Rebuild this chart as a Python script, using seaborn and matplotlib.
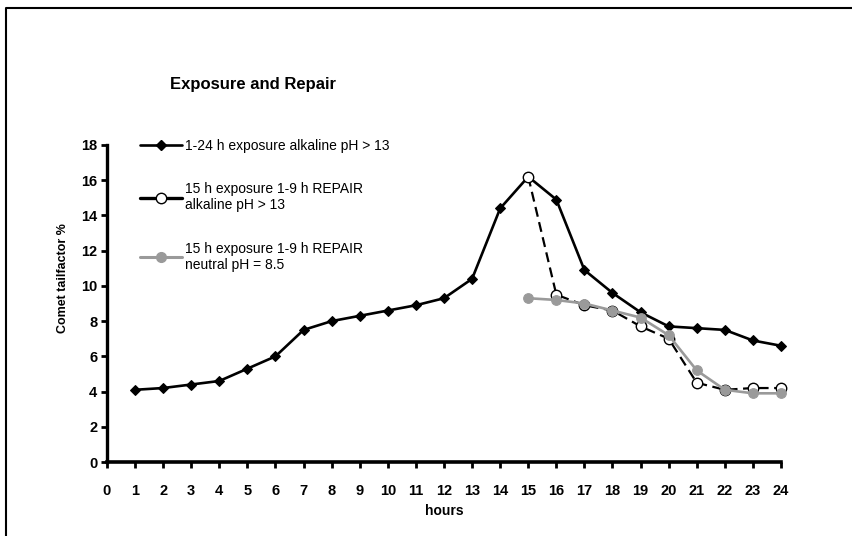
import matplotlib.pyplot as plt
import numpy as np
import pandas as pd
import seaborn as sns
from matplotlib.lines import Line2D

# data
hours_all = list(range(1, 25))
exposure_alk = [4.1, 4.2, 4.4, 4.6, 5.3, 6.0, 7.5, 8.0, 8.3, 8.6, 8.9, 9.3,
                10.4, 14.4, 16.2, 14.9, 10.9, 9.6, 8.5, 7.7, 7.6, 7.5, 6.9, 6.6]
hours_repair = list(range(15, 25))
repair_alk = [16.2, 9.5, 8.9, 8.6, 7.7, 7.0, 4.5, 4.1, 4.2, 4.2]
repair_neutral = [9.3, 9.2, 9.0, 8.6, 8.2, 7.2, 5.2, 4.1, 3.9, 3.9]

labels = ["1-24 h exposure alkaline pH > 13",
          "15 h exposure 1-9 h REPAIR\nalkaline pH > 13",
          "15 h exposure 1-9 h REPAIR\nneutral pH = 8.5"]
x_ticks = list(range(0, 25))
y_ticks = list(range(0, 20, 2))

GRAY = "#9a9a9a"


def set_default_style():
    sns.set_theme(style="ticks", rc={
        "figure.facecolor": "white",
        "axes.spines.right": False,
        "axes.spines.top": False,
        "axes.edgecolor": "black",
        "axes.labelcolor": "black",
        "text.color": "black",
        "xtick.color": "black",
        "ytick.color": "black",
    })
    plt.rcParams["font.family"] = ["Liberation Sans", "DejaVu Sans"]


set_default_style()

df_exp = pd.DataFrame({"hours": hours_all, "value": exposure_alk})
df_alk = pd.DataFrame({"hours": hours_repair, "value": repair_alk})
df_neu = pd.DataFrame({"hours": hours_repair, "value": repair_neutral})

fig = plt.figure(figsize=(8.53, 5.36), dpi=100)
ax = fig.add_axes([107 / 853, 1 - 462 / 536, 674 / 853, 317 / 536])

sns.lineplot(data=df_exp, x="hours", y="value", ax=ax, color="black",
             lw=1.9, marker="D", markersize=5.5, mfc="black", mec="black",
             clip_on=False, zorder=3)
sns.lineplot(data=df_alk, x="hours", y="value", ax=ax, color="black",
             lw=1.6, dashes=(4.5, 2.5), marker="o", markersize=7.5, mfc="white",
             mec="black", mew=1.0, clip_on=False, zorder=4)
sns.lineplot(data=df_neu, x="hours", y="value", ax=ax, color=GRAY,
             lw=1.9, marker="o", markersize=7, mfc=GRAY, mec=GRAY,
             clip_on=False, zorder=5)

ax.set_xlim(0, 24)
ax.set_ylim(0, 18)
ax.set_xticks(x_ticks)
ax.set_yticks(y_ticks)
ax.spines["left"].set_linewidth(2.4)
ax.spines["bottom"].set_linewidth(2.6)
ax.tick_params(axis="x", length=4, width=2, pad=12, labelsize=10.5)
ax.tick_params(axis="y", length=4, width=2, pad=3, labelsize=10.5)
for t in ax.get_xticklabels() + ax.get_yticklabels():
    t.set_fontweight("bold")

ax.set_xlabel("hours", fontsize=10, fontweight="bold")
ax.xaxis.set_label_coords(0.5, (462 - 504) / 317)
ax.set_ylabel("Comet tailfactor %", fontsize=9, fontweight="bold")
ax.yaxis.set_label_coords((69 - 107) / 674, (462 - 278) / 317)

# legend handles as in the reference: solid lines with one marker
handles = [
    Line2D([], [], color="black", lw=1.9, marker="D", markersize=5.5),
    Line2D([], [], color="black", lw=2.4, marker="o", markersize=7.5,
           mfc="white", mec="black", mew=1.0),
    Line2D([], [], color=GRAY, lw=2.2, marker="o", markersize=7,
           mfc=GRAY, mec=GRAY),
]
ax.legend(handles, labels, loc="upper left",
          bbox_to_anchor=(140 / 853, 1 - 139 / 536),
          bbox_transform=fig.transFigure, frameon=False, fontsize=10,
          borderpad=0, borderaxespad=0, handlelength=3.0,
          handletextpad=0.25, labelspacing=2.1, numpoints=1)

fig.text(170 / 853, 1 - 85 / 536, "Exposure and Repair", fontsize=12,
         fontweight="bold", ha="left", va="center")

# outer frame (only top and left edges are visible in the reference)
fig.add_artist(Line2D([6 / 853, 6 / 853, 1.01], [-0.01, 1 - 8 / 536, 1 - 8 / 536],
                      transform=fig.transFigure, color="black", lw=1.5))

fig.savefig("out.png", dpi=100)
